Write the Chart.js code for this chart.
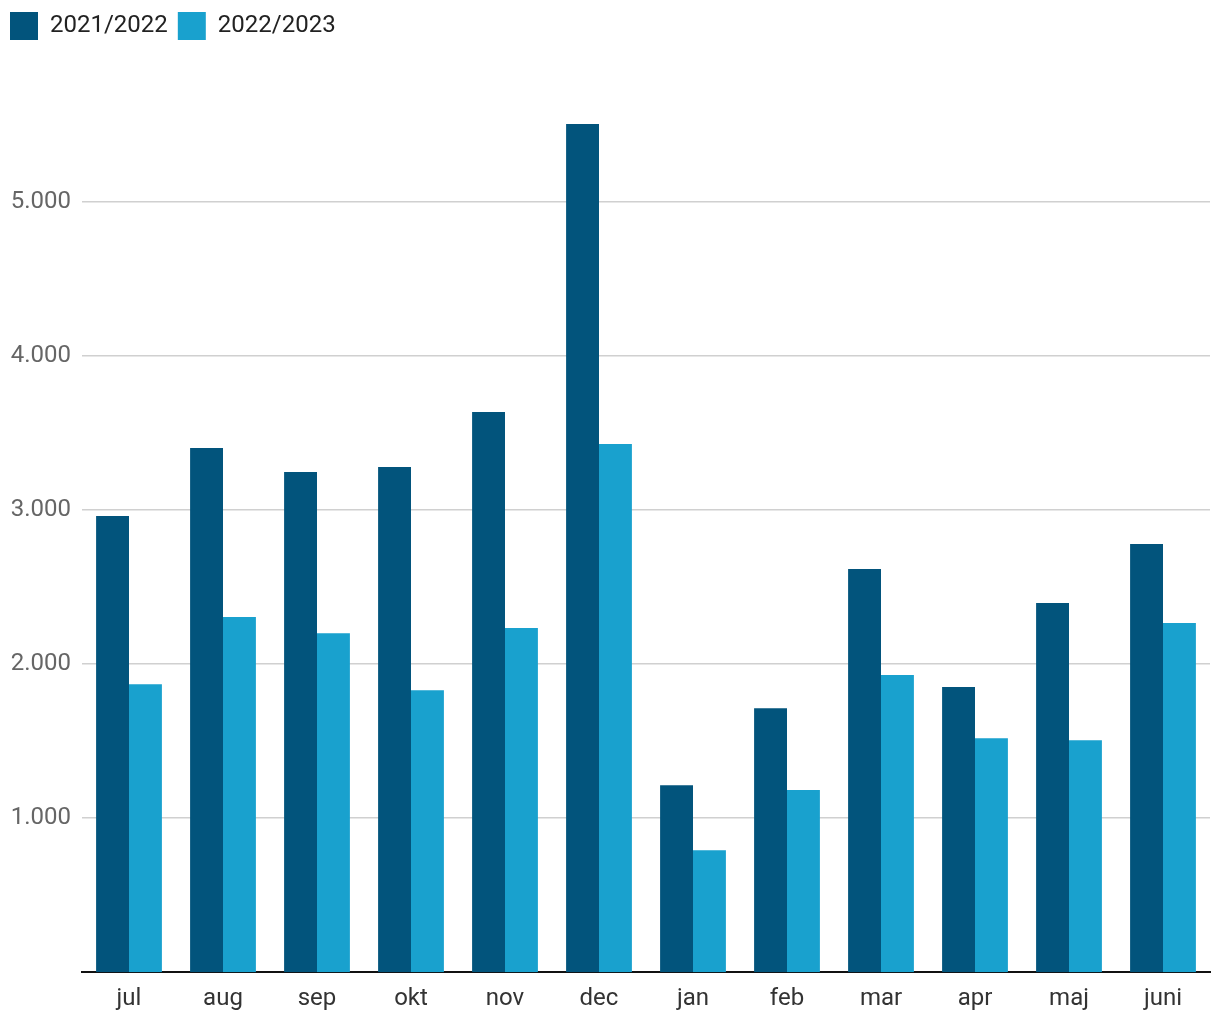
<!DOCTYPE html>
<html>
<head>
<meta charset="utf-8">
<script src="https://cdn.jsdelivr.net/npm/chart.js@4"></script>
<style>
  body { margin: 0; background: #fff; }
  #wrap { width: 1220px; height: 1020px; }
</style>
</head>
<body>
<div id="wrap"><canvas id="monthChart"></canvas></div>
<script>
const months = ['jul', 'aug', 'sep', 'okt', 'nov', 'dec', 'jan', 'feb', 'mar', 'apr', 'maj', 'juni'];
const season1 = [2961, 3403, 3247, 3279, 3636, 5506, 1214, 1714, 2617, 1851, 2396, 2779];
const season2 = [1870, 2305, 2201, 1831, 2234, 3429, 792, 1182, 1929, 1519, 1506, 2266];
const yTicks = [1000, 2000, 3000, 4000, 5000];

Chart.defaults.font.family = 'Roboto, sans-serif';

// legend takes the whole band above the plot, so the plot starts at y=124
const legendBand = {
  id: 'legendBand',
  beforeLayout(chart) {
    const lg = chart.legend;
    if (lg && !lg._banded) {
      const orig = lg.fit;
      lg.fit = function () { orig.call(this); this.height = 122; };
      lg._banded = true;
    }
  }
};

const data = {
  labels: months,
  datasets: [{
    label: '2021/2022',
    data: season1,
    backgroundColor: '#02547c',
    categoryPercentage: 0.7,
    barPercentage: 1.0
  }, {
    label: '2022/2023',
    data: season2,
    backgroundColor: '#19a1ce',
    categoryPercentage: 0.7,
    barPercentage: 1.0
  }]
};

new Chart(document.getElementById('monthChart'), {
  type: 'bar',
  data,
  plugins: [legendBand],
  options: {
    responsive: true,
    maintainAspectRatio: false,
    animation: false,
    layout: { padding: { top: 2, right: 10, bottom: 3, left: 0 } },
    plugins: {
      tooltip: { enabled: false },
      legend: {
        position: 'top',
        align: 'start',
        labels: {
          boxWidth: 28,
          boxHeight: 28,
          color: '#222',
          font: { size: 24 },
          padding: 10
        }
      }
    },
    scales: {
      x: {
        grid: { display: false },
        border: { color: '#111', width: 2 },
        ticks: { color: '#333', font: { size: 24 }, padding: 4 }
      },
      y: {
        min: 0,
        max: 5506,
        afterBuildTicks: (axis) => { axis.ticks = yTicks.map(v => ({ value: v })); },
        afterFit: (axis) => { axis.width = 82; },
        grid: { color: '#d0d0d0', lineWidth: 1.5, drawTicks: false },
        border: { display: false },
        ticks: {
          color: '#666',
          font: { size: 24 },
          padding: 11,
          callback: (v) => v.toLocaleString('de-DE')
        }
      }
    }
  }
});
</script>
</body>
</html>
